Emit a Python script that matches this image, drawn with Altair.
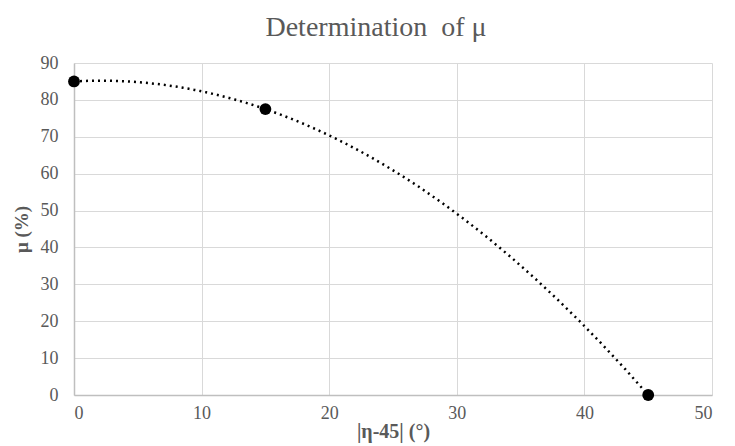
import altair as alt
import pandas as pd

x_vals = [0, 15, 45]
y_vals = [85, 77.5, 0]
x_ticks = [0, 10, 20, 30, 40, 50]
y_ticks = [0, 10, 20, 30, 40, 50, 60, 70, 80, 90]

df = pd.DataFrame({"x": x_vals, "y": y_vals})

FONT = "Liberation Serif"
GRAY = "#595959"

xscale = alt.Scale(domain=[0, 50], nice=False)
yscale = alt.Scale(domain=[0, 90], nice=False)

xaxis = alt.Axis(values=x_ticks, title="|η-45| (°)", grid=True, labelOverlap=False,
                 gridColor="#d9d9d9", domainColor="#bfbfbf", domainWidth=1.5, ticks=False,
                 labelFont=FONT, labelFontSize=18, labelColor=GRAY, labelPadding=9,
                 titleFont=FONT, titleFontSize=20, titleFontWeight="bold", titleColor=GRAY,
                 titlePadding=-1)
yaxis = alt.Axis(values=y_ticks, title="μ (%)", grid=True, labelOverlap=False,
                 gridColor="#d9d9d9", domainColor="#bfbfbf", domainWidth=1.5, ticks=False,
                 labelFont=FONT, labelFontSize=18, labelColor=GRAY, labelPadding=16,
                 titleFont=FONT, titleFontSize=19, titleFontWeight="bold", titleColor=GRAY,
                 titlePadding=9)

X = alt.X("x:Q", scale=xscale, axis=xaxis)
Y = alt.Y("y:Q", scale=yscale, axis=yaxis)

base = alt.Chart(df)

trend = base.transform_regression("x", "y", method="poly", order=2, extent=[0, 45]).mark_line(
    color="black", strokeDash=[2, 4], strokeWidth=2.5
).encode(x=X, y=Y)

pts = base.mark_point(filled=True, color="black", size=140, opacity=1).encode(x=X, y=Y)

chart = alt.layer(trend, pts).properties(
    width=638, height=332,
    autosize=alt.AutoSizeParams(type="none"),
    padding={"left": 66, "top": 55, "right": 10, "bottom": 50},
    title=alt.TitleParams("Determination\u2002of μ", font=FONT, fontSize=28, fontWeight="normal",
                          color=GRAY, offset=12, anchor="middle", dx=-17),
).configure_view(stroke=None)

chart.save("out.html", embed_options={"renderer": "svg", "actions": False})
